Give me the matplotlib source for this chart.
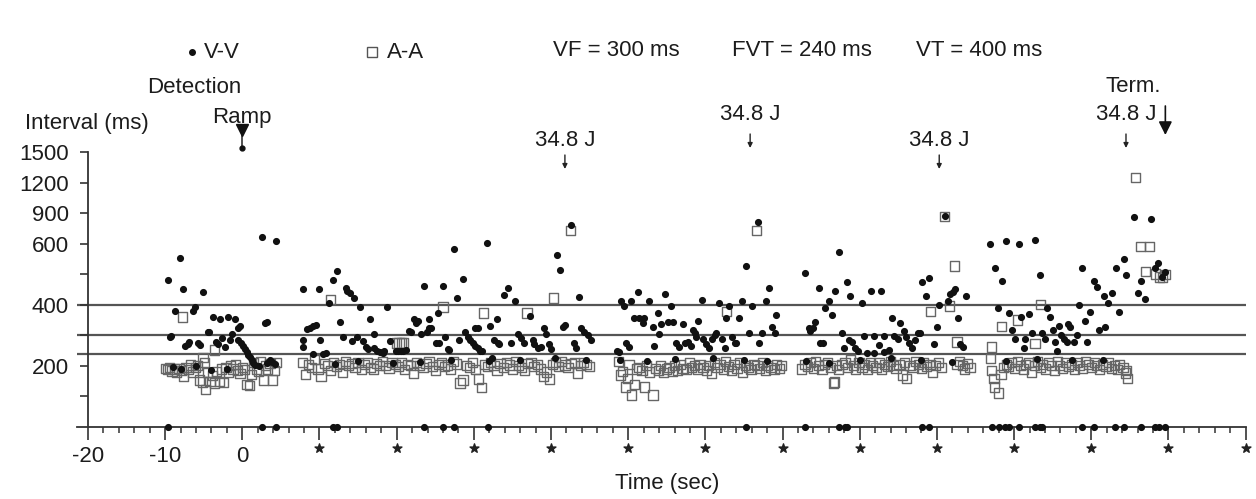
import numpy as np
import matplotlib.pyplot as plt
from matplotlib.lines import Line2D
from matplotlib import transforms

plt.rcParams['font.family'] = ['Liberation Sans', 'DejaVu Sans']
plt.rcParams['font.size'] = 16

# ---- data: (time s, interval ms) ----
vv_seg_a = [(-9.6, 481), (-9.4, 294), (-9.2, 298), (-8.7, 380), (-8.1, 553), (-7.7, 452),
            (-7.4, 265), (-7.1, 272), (-6.9, 278), (-6.4, 380), (-6.1, 392), (-5.7, 275),
            (-5.5, 268), (-5.1, 442), (-4.5, 311), (-4.3, 311), (-3.8, 360), (-3.4, 278),
            (-3.1, 272), (-2.9, 353), (-2.6, 291), (-2.3, 262), (-1.9, 360), (-1.6, 285),
            (-1.3, 304), (-0.9, 353), (-0.6, 324), (-0.3, 330), (-0.5, 285), (-0.2, 275),
            (0.1, 265), (0.3, 256), (0.6, 246), (0.8, 237), (1.0, 228), (1.2, 220),
            (1.4, 211), (1.7, 203), (2.6, 668), (4.4, 630), (3.0, 340), (3.2, 344),
            (3.6, 219), (3.9, 213), (3.2, 209), (-9.0, 195), (-8.0, 190), (-6.0, 200),
            (-4.0, 185), (-2.0, 190), (2.2, 200), (4.2, 205)]
vv_seg_b = [(7.8, 285), (7.9, 262), (7.9, 452), (8.4, 320), (8.8, 324), (9.2, 330), (9.2, 239),
            (9.5, 334), (9.9, 452), (10.1, 285), (10.5, 239), (10.8, 242), (11.2, 405),
            (11.8, 481), (12.3, 511), (12.7, 344), (13.0, 295), (13.4, 455), (13.6, 445),
            (13.9, 439), (14.2, 282), (14.5, 422), (14.8, 295), (15.2, 393), (15.6, 282),
            (16.0, 262), (16.3, 255), (16.6, 354), (17.0, 305), (17.0, 259), (17.4, 249),
            (17.8, 245), (18.2, 242), (18.3, 249), (18.8, 393), (19.1, 282), (19.9, 250),
            (20.2, 250), (20.5, 248), (20.8, 250), (21.2, 252), (21.6, 314), (21.8, 311),
            (22.2, 354), (22.5, 341), (22.7, 347), (23.1, 305), (23.5, 462), (23.9, 311),
            (24.2, 324), (24.2, 354), (24.5, 324), (25.1, 275), (25.3, 373), (25.5, 275),
            (26.0, 462), (26.2, 295), (26.6, 255), (26.8, 252), (27.4, 583), (27.8, 422),
            (28.1, 285), (28.6, 485), (28.8, 311), (29.2, 295), (29.5, 285), (29.9, 275),
            (30.1, 265), (30.1, 324), (30.5, 259), (30.5, 324), (30.8, 249), (31.1, 249),
            (31.7, 610), (32.1, 331), (32.3, 226), (32.6, 285), (33.0, 354), (33.1, 275),
            (33.2, 272), (33.9, 432), (34.4, 455), (34.8, 275), (35.3, 413), (35.7, 305),
            (36.1, 291), (36.5, 275), (37.3, 364), (37.7, 285), (37.8, 272), (38.3, 259),
            (38.7, 262), (39.1, 324), (39.4, 305), (39.7, 272), (40.0, 255), (40.8, 563),
            (41.2, 514), (41.6, 328), (41.8, 334), (42.6, 787), (43.0, 275), (43.2, 259),
            (43.6, 426), (43.9, 324), (44.3, 311), (44.8, 301), (45.2, 285), (12.0, 205),
            (15.0, 215), (19.5, 210), (23.0, 212), (27.0, 218), (32.0, 215), (36.0, 220),
            (40.5, 225), (44.5, 218)]
vv_seg_c = [(48.6, 249), (48.8, 245), (49.1, 413), (49.5, 396), (49.7, 275), (50.1, 262),
            (50.4, 413), (50.8, 357), (51.3, 442), (51.4, 357), (51.9, 341), (52.1, 357),
            (52.7, 413), (53.2, 328), (53.4, 265), (53.8, 373), (54.0, 305), (54.3, 337),
            (54.8, 436), (55.2, 344), (55.6, 396), (55.8, 344), (56.2, 275), (56.6, 262),
            (57.1, 337), (57.3, 275), (57.8, 278), (58.2, 265), (58.4, 318), (58.6, 308),
            (58.8, 295), (59.1, 347), (59.5, 416), (59.7, 288), (60.1, 272), (60.5, 259),
            (60.9, 288), (61.2, 301), (61.4, 308), (61.8, 406), (62.2, 288), (62.5, 259),
            (62.7, 357), (63.1, 396), (63.4, 295), (63.8, 275), (64.0, 275), (64.4, 357),
            (64.7, 413), (65.3, 527), (65.6, 308), (66.0, 396), (66.8, 815), (67.0, 275),
            (67.4, 308), (67.8, 413), (68.2, 455), (68.6, 328), (69.0, 308), (69.2, 367),
            (49.0, 220), (52.5, 215), (56.0, 222), (61.0, 225), (65.0, 218), (68.0, 215)]
vv_seg_d = [(72.9, 504), (73.4, 324), (73.6, 314), (74.0, 324), (74.2, 344), (74.7, 455),
            (74.9, 275), (75.3, 275), (75.5, 390), (76.0, 413), (76.4, 367), (76.8, 445),
            (77.3, 573), (77.7, 308), (78.0, 259), (78.4, 475), (78.6, 285), (78.8, 429),
            (79.0, 278), (79.4, 259), (79.8, 249), (80.3, 406), (80.5, 298), (81.0, 242),
            (81.4, 445), (81.8, 298), (81.9, 242), (82.5, 269), (82.7, 445), (83.1, 298),
            (83.1, 245), (83.8, 252), (84.2, 357), (84.5, 298), (84.9, 288), (85.2, 341),
            (85.7, 314), (86.0, 295), (86.4, 275), (86.8, 259), (87.1, 285), (87.5, 308),
            (87.8, 308), (88.1, 475), (88.6, 429), (89.0, 488), (89.6, 272), (90.0, 328),
            (90.3, 400), (91.0, 870), (91.4, 413), (91.7, 436), (92.1, 442), (92.3, 452),
            (92.7, 357), (93.0, 272), (93.4, 262), (93.8, 429), (73.0, 215), (76.0, 210),
            (80.0, 220), (84.0, 225), (88.0, 218), (92.0, 212)]
vv_seg_e = [(96.9, 600), (97.5, 521), (97.9, 390), (98.4, 478), (98.9, 630), (99.4, 373),
            (99.7, 318), (100.1, 288), (100.6, 600), (100.9, 360), (101.3, 259), (101.4, 288),
            (101.9, 370), (102.3, 308), (102.7, 640), (103.4, 498), (103.6, 308), (104.0, 288),
            (104.3, 390), (104.7, 360), (105.1, 318), (105.3, 278), (105.5, 249), (105.8, 331),
            (106.1, 301), (106.5, 288), (106.8, 278), (107.0, 337), (107.3, 328), (107.7, 278),
            (108.1, 301), (108.4, 400), (108.8, 521), (109.2, 347), (109.5, 278), (109.9, 377),
            (110.3, 478), (110.8, 459), (111.0, 318), (111.6, 429), (111.8, 328), (112.2, 406),
            (112.7, 439), (113.2, 521), (113.6, 377), (114.2, 550), (114.5, 498), (115.5, 865),
            (116.0, 439), (116.4, 478), (117.0, 419), (117.7, 845), (118.2, 521), (118.6, 537),
            (119.2, 491), (119.6, 508), (99.0, 215), (103.0, 222), (107.5, 218), (111.5, 220)]

aa_seg_a = [(-10.0, 192), (-9.7, 188), (-9.4, 195), (-9.1, 183), (-8.8, 190), (-8.5, 178),
            (-8.2, 192), (-7.9, 185), (-7.6, 164), (-7.3, 196), (-7.0, 188), (-6.7, 203),
            (-6.4, 180), (-6.1, 195), (-5.8, 200), (-5.5, 154), (-5.2, 147), (-4.9, 210),
            (-4.8, 124), (-4.5, 178), (-4.2, 150), (-3.9, 168), (-3.6, 144), (-3.3, 182),
            (-3.0, 150), (-2.7, 190), (-2.4, 145), (-2.1, 196), (-1.8, 180), (-1.5, 200),
            (-1.2, 190), (-0.9, 205), (-0.6, 185), (-0.3, 175), (0.0, 195), (0.3, 188),
            (0.6, 140), (0.9, 135), (1.2, 172), (1.5, 210), (1.8, 190), (2.1, 182),
            (2.4, 215), (2.7, 154), (3.0, 200), (3.3, 190), (3.6, 208), (3.9, 154),
            (4.2, 185), (4.4, 210), (-7.7, 360), (-5.1, 228), (-3.6, 252)]
aa_seg_b = [(7.8, 210), (8.2, 172), (8.6, 205), (9.0, 196), (9.4, 220), (9.8, 190), (10.2, 164),
            (10.6, 208), (11.0, 200), (11.4, 185), (11.8, 212), (12.2, 198), (12.6, 205),
            (13.0, 178), (13.4, 215), (13.8, 200), (14.2, 208), (14.6, 195), (15.0, 210),
            (15.4, 187), (15.8, 205), (16.2, 212), (16.6, 196), (17.0, 190), (17.4, 208),
            (17.8, 202), (18.2, 215), (18.6, 200), (19.0, 193), (19.4, 210), (19.8, 205),
            (20.2, 198), (20.6, 212), (21.0, 188), (21.4, 205), (21.8, 200), (22.2, 177),
            (22.6, 210), (23.0, 202), (23.4, 195), (23.8, 208), (24.2, 214), (24.6, 199),
            (25.0, 186), (25.4, 205), (25.8, 210), (26.2, 197), (26.6, 203), (27.0, 190),
            (27.4, 215), (27.8, 206), (28.2, 144), (28.6, 154), (29.0, 200), (29.4, 195),
            (29.8, 210), (30.2, 188), (30.6, 157), (31.0, 128), (31.4, 205), (31.8, 198),
            (32.2, 212), (32.6, 200), (33.0, 185), (33.4, 207), (33.8, 196), (34.2, 210),
            (34.6, 203), (35.0, 190), (35.4, 215), (35.8, 200), (36.2, 195), (36.6, 186),
            (37.0, 208), (37.4, 212), (37.8, 199), (38.2, 205), (38.6, 190), (39.0, 164),
            (39.4, 180), (39.8, 157), (40.2, 205), (40.6, 210), (41.0, 198), (41.4, 215),
            (41.8, 203), (42.2, 195), (42.6, 208), (43.0, 210), (43.4, 177), (43.8, 200),
            (44.2, 212), (44.6, 205), (45.0, 198), (11.4, 416), (20.0, 275), (20.3, 275),
            (20.6, 275), (20.9, 275), (26.0, 393), (31.3, 373), (36.9, 373), (40.3, 422),
            (42.5, 728)]
aa_seg_c = [(48.7, 215), (49.0, 170), (49.3, 182), (49.6, 131), (49.9, 160), (50.1, 205),
            (50.4, 105), (50.8, 138), (51.1, 190), (51.4, 195), (51.8, 185), (52.1, 131),
            (52.4, 200), (52.8, 180), (53.2, 105), (53.5, 192), (53.9, 185), (54.2, 200),
            (54.6, 178), (55.0, 190), (55.3, 195), (55.7, 182), (56.0, 200), (56.4, 185),
            (56.8, 205), (57.1, 192), (57.5, 188), (57.9, 210), (58.2, 195), (58.6, 200),
            (59.0, 190), (59.3, 205), (59.7, 196), (60.1, 185), (60.4, 200), (60.8, 176),
            (61.2, 210), (61.5, 195), (61.9, 205), (62.3, 190), (62.6, 215), (63.0, 198),
            (63.4, 186), (63.7, 205), (64.1, 192), (64.5, 210), (64.8, 180), (65.2, 200),
            (65.6, 195), (65.9, 188), (66.3, 205), (66.7, 200), (67.0, 192), (67.4, 210),
            (67.8, 185), (68.1, 200), (68.5, 195), (68.9, 188), (69.2, 205), (69.6, 192),
            (69.9, 200), (62.7, 377), (66.6, 727)]
aa_seg_d = [(72.5, 190), (72.9, 205), (73.2, 198), (73.6, 210), (74.0, 192), (74.3, 215),
            (74.7, 200), (75.1, 188), (75.4, 205), (75.8, 210), (76.2, 196), (76.6, 144),
            (76.7, 147), (77.0, 200), (77.3, 187), (77.7, 205), (78.1, 212), (78.4, 195),
            (78.8, 220), (79.2, 200), (79.5, 190), (79.9, 210), (80.3, 196), (80.6, 205),
            (81.0, 188), (81.4, 212), (81.7, 200), (82.1, 195), (82.5, 210), (82.8, 190),
            (83.2, 205), (83.6, 198), (84.0, 215), (84.3, 200), (84.7, 192), (85.1, 205),
            (85.5, 170), (85.8, 210), (86.1, 160), (86.5, 200), (86.9, 195), (87.2, 215),
            (87.6, 205), (88.0, 192), (88.3, 210), (88.7, 198), (89.1, 205), (89.4, 180),
            (89.8, 200), (90.2, 212), (90.6, 195), (92.6, 205), (92.9, 215), (93.3, 200),
            (93.6, 190), (94.0, 208), (94.3, 196), (89.2, 377), (91.0, 870), (91.6, 396),
            (92.3, 527), (92.6, 278)]
aa_seg_e = [(96.9, 225), (97.1, 185), (97.4, 160), (97.5, 131), (98.0, 111), (98.3, 172),
            (98.6, 195), (99.0, 205), (99.3, 198), (99.7, 210), (100.1, 192), (100.4, 215),
            (100.8, 200), (101.2, 190), (101.5, 205), (101.9, 212), (102.3, 180), (102.6, 200),
            (103.0, 215), (103.4, 195), (103.7, 205), (104.1, 190), (104.5, 210), (104.8, 200),
            (105.2, 185), (105.6, 215), (105.9, 200), (106.3, 192), (106.7, 210), (107.0, 198),
            (107.4, 205), (107.8, 188), (108.2, 210), (108.5, 200), (108.9, 192), (109.3, 215),
            (109.6, 205), (110.0, 195), (110.4, 210), (110.7, 200), (111.1, 188), (111.5, 205),
            (111.9, 198), (112.2, 210), (112.6, 192), (113.0, 200), (113.4, 188), (113.7, 205),
            (114.1, 195), (114.4, 177), (114.6, 185), (114.7, 160), (97.1, 262), (98.4, 328),
            (100.4, 350), (102.7, 272), (103.4, 400), (115.7, 1250), (116.4, 590), (117.5, 590),
            (117.0, 508), (118.3, 501), (118.8, 491), (119.2, 488), (119.6, 498)]

# events drawn on the time axis
base_t = [-9.6, 2.6, 4.4, 11.8, 12.3, 23.6, 26.0, 27.4, 31.8, 65.3, 72.9, 77.3, 78.1, 78.4,
          88.1, 89.0, 97.1, 98.1, 98.8, 99.4, 100.6, 102.7, 103.3, 103.6, 108.8, 110.4,
          113.1, 114.3, 116.5, 118.2, 118.8, 119.5]

thresholds = [400, 300, 240]
threshold_labels = ['VF = 300 ms', 'FVT = 240 ms', 'VT = 400 ms']
shock_t = [41.8, 65.8, 90.3, 114.5]
shock_label = '34.8 J'
ramp_t = 0.0
term_t = 119.6
star_t = list(range(10, 131, 10))
xticks = list(range(-20, 131, 10))
xticklabels = ['-20', '-10', '0'] + [''] * (len(xticks) - 3)
yticks = [200, 400, 600, 900, 1200, 1500]
yminor = [100, 300, 500]

vv = np.array(vv_seg_a + vv_seg_b + vv_seg_c + vv_seg_d + vv_seg_e, float)
aa = np.array(aa_seg_a + aa_seg_b + aa_seg_c + aa_seg_d + aa_seg_e, float)


# piecewise y axis: 100 ms per step below 600, 300 ms per step above
def fwd(y):
    y = np.asarray(y, float)
    return np.where(y <= 600, y, 600 + (y - 600) / 3)


def inv(u):
    u = np.asarray(u, float)
    return np.where(u <= 600, u, 600 + (u - 600) * 3)


W, H = 1256, 499
ink = '#1c1c1c'
fig = plt.figure(figsize=(W / 100, H / 100), dpi=100)
ax = fig.add_axes([77 / W, 1 - 427 / H, 1169 / W, 275 / H])
ax.set_yscale('function', functions=(fwd, inv))
ax.set_xlim(-21.42, 130.05)
ax.set_ylim(0, 1500)

for s in ['top', 'right']:
    ax.spines[s].set_visible(False)
ax.spines['left'].set_position(('data', -20))
ax.spines['left'].set_bounds(0, 1500)
for s in ['left', 'bottom']:
    ax.spines[s].set_color('#333333')
    ax.spines[s].set_linewidth(1.3)

ax.set_yticks(yticks)
ax.set_yticks(yminor, minor=True)
ax.set_yticklabels([str(v) for v in yticks])
ax.set_xticks(xticks)
ax.set_xticklabels(xticklabels)
ax.set_xticks(list(range(-20, 131, 2)), minor=True)
ax.tick_params(axis='y', which='both', length=6, width=1.2, pad=8, colors='#333333',
               labelcolor=ink, labelsize=16)
ax.tick_params(axis='x', which='major', length=9.5, width=1.2, pad=4, colors='#333333',
               labelcolor=ink, labelsize=16)
ax.tick_params(axis='x', which='minor', length=4.5, width=1.1, colors='#333333')

for v in thresholds:
    ax.axhline(v, color='#555555', lw=1.6, zorder=1)

ax.scatter(aa[:, 0], aa[:, 1], marker='s', s=44, facecolors='none', edgecolors='#666666',
           linewidths=1.0, zorder=2, clip_on=False)
ax.scatter(vv[:, 0], vv[:, 1], marker='o', s=17, color='#111111', zorder=3, clip_on=False)
ax.scatter(base_t, np.zeros(len(base_t)), marker='o', s=17, color='#111111', zorder=3,
           clip_on=False)

# stars under the long ticks
tr_ax = transforms.blended_transform_factory(ax.transData, ax.transAxes)
ax.scatter(star_t, np.full(len(star_t), -0.076), transform=tr_ax, marker='*', s=45,
           color='#222222', clip_on=False)

# annotations: x in data, y in figure pixels
tr = transforms.blended_transform_factory(ax.transData, fig.transFigure)


def fy(py):
    return 1 - py / H


label_py = [140, 115, 140, 115]
arrow_py = [(155, 169), (134, 148), (155, 169), (134, 148)]
for t, lp, (a0, a1) in zip(shock_t, label_py, arrow_py):
    ax.text(t, fy(lp), shock_label, transform=tr, ha='center', va='center', color=ink,
            clip_on=False)
    ax.annotate('', xy=(t, fy(a1)), xytext=(t, fy(a0)), xycoords=tr, textcoords=tr,
                arrowprops=dict(arrowstyle='-|>', color='#222222', lw=1.0,
                                mutation_scale=7, shrinkA=0, shrinkB=0),
                annotation_clip=False)

# ramp marker
ax.plot([ramp_t, ramp_t], [fy(131), fy(147)], transform=tr, color='#222222', lw=1.1,
        clip_on=False)
ax.plot([ramp_t], [fy(130)], transform=tr, marker='v', ms=8, color='#111111', clip_on=False)
ax.plot([ramp_t], [fy(148)], transform=tr, marker='o', ms=3.5, color='#111111', clip_on=False)

# termination arrow
ax.annotate('', xy=(term_t, fy(135)), xytext=(term_t, fy(106)), xycoords=tr, textcoords=tr,
            arrowprops=dict(arrowstyle='-|>', color='#111111', lw=1.2, mutation_scale=20,
                            shrinkA=0, shrinkB=0),
            annotation_clip=False)
ax.text(term_t - 4.1, fy(86), 'Term.', transform=tr, ha='center', va='center', color=ink)
ax.text(ramp_t - 6.2, fy(87), 'Detection', transform=tr, ha='center', va='center', color=ink)
ax.text(ramp_t, fy(117), 'Ramp', transform=tr, ha='center', va='center', color=ink)

# header legend and thresholds
fig.add_artist(Line2D([192 / W], [fy(52)], marker='o', ms=4, color='#111111',
                      transform=fig.transFigure))
fig.add_artist(Line2D([372 / W], [fy(52)], marker='s', ms=6.5, mfc='none', mec='#555555',
                      mew=1.0, transform=fig.transFigure))
fig.text(204 / W, fy(52), 'V-V', ha='left', va='center', color=ink)
fig.text(387 / W, fy(52), 'A-A', ha='left', va='center', color=ink)
for lab, px in zip(threshold_labels, [553, 732, 916]):
    fig.text(px / W, fy(51), lab, ha='left', va='center', color=ink)

fig.text(25 / W, fy(124), 'Interval (ms)', ha='left', va='center', color=ink)
fig.text(667 / W, fy(483), 'Time (sec)', ha='center', va='center', color=ink)

fig.savefig('out.png', dpi=100)
